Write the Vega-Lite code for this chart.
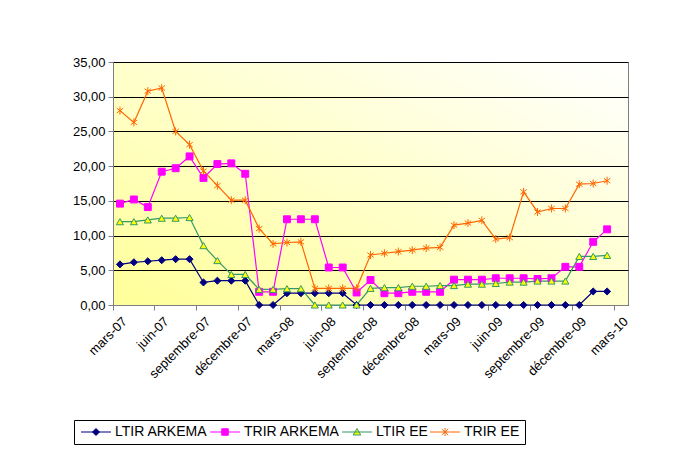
{
  "$schema": "https://vega.github.io/schema/vega-lite/v6.json",
  "width": 515,
  "height": 243,
  "autosize": {"type": "none"},
  "padding": {"left": 113, "top": 62, "right": 57, "bottom": 162},
  "background": "white",
  "config": {
    "font": "Liberation Sans",
    "view": {
      "fill": {"gradient": "linear", "x1": 0, "y1": 1, "x2": 1, "y2": 0,
        "stops": [{"offset": 0, "color": "#FFFF99"}, {"offset": 1, "color": "#FFFFFF"}]},
      "stroke": "#808080",
      "strokeWidth": 1
    }
  },
  "data": {"values": [
    {"month":"mars-07","series":"LTIR ARKEMA","value":5.85},{"month":"avril-07","series":"LTIR ARKEMA","value":6.15},{"month":"mai-07","series":"LTIR ARKEMA","value":6.3},{"month":"juin-07","series":"LTIR ARKEMA","value":6.45},{"month":"juillet-07","series":"LTIR ARKEMA","value":6.6},{"month":"août-07","series":"LTIR ARKEMA","value":6.6},{"month":"septembre-07","series":"LTIR ARKEMA","value":3.25},{"month":"octobre-07","series":"LTIR ARKEMA","value":3.5},{"month":"novembre-07","series":"LTIR ARKEMA","value":3.5},{"month":"décembre-07","series":"LTIR ARKEMA","value":3.5},{"month":"janvier-08","series":"LTIR ARKEMA","value":0},{"month":"février-08","series":"LTIR ARKEMA","value":0},{"month":"mars-08","series":"LTIR ARKEMA","value":1.7},{"month":"avril-08","series":"LTIR ARKEMA","value":1.7},{"month":"mai-08","series":"LTIR ARKEMA","value":1.7},{"month":"juin-08","series":"LTIR ARKEMA","value":1.7},{"month":"juillet-08","series":"LTIR ARKEMA","value":1.7},{"month":"août-08","series":"LTIR ARKEMA","value":0},{"month":"septembre-08","series":"LTIR ARKEMA","value":0},{"month":"octobre-08","series":"LTIR ARKEMA","value":0},{"month":"novembre-08","series":"LTIR ARKEMA","value":0},{"month":"décembre-08","series":"LTIR ARKEMA","value":0},{"month":"janvier-09","series":"LTIR ARKEMA","value":0},{"month":"février-09","series":"LTIR ARKEMA","value":0},{"month":"mars-09","series":"LTIR ARKEMA","value":0},{"month":"avril-09","series":"LTIR ARKEMA","value":0},{"month":"mai-09","series":"LTIR ARKEMA","value":0},{"month":"juin-09","series":"LTIR ARKEMA","value":0},{"month":"juillet-09","series":"LTIR ARKEMA","value":0},{"month":"août-09","series":"LTIR ARKEMA","value":0},{"month":"septembre-09","series":"LTIR ARKEMA","value":0},{"month":"octobre-09","series":"LTIR ARKEMA","value":0},{"month":"novembre-09","series":"LTIR ARKEMA","value":0},{"month":"décembre-09","series":"LTIR ARKEMA","value":0},{"month":"janvier-10","series":"LTIR ARKEMA","value":1.95},{"month":"février-10","series":"LTIR ARKEMA","value":1.95},
    {"month":"mars-07","series":"TRIR ARKEMA","value":14.6},{"month":"avril-07","series":"TRIR ARKEMA","value":15.2},{"month":"mai-07","series":"TRIR ARKEMA","value":14.1},{"month":"juin-07","series":"TRIR ARKEMA","value":19.2},{"month":"juillet-07","series":"TRIR ARKEMA","value":19.7},{"month":"août-07","series":"TRIR ARKEMA","value":21.4},{"month":"septembre-07","series":"TRIR ARKEMA","value":18.3},{"month":"octobre-07","series":"TRIR ARKEMA","value":20.3},{"month":"novembre-07","series":"TRIR ARKEMA","value":20.4},{"month":"décembre-07","series":"TRIR ARKEMA","value":18.9},{"month":"janvier-08","series":"TRIR ARKEMA","value":1.9},{"month":"février-08","series":"TRIR ARKEMA","value":1.9},{"month":"mars-08","series":"TRIR ARKEMA","value":12.35},{"month":"avril-08","series":"TRIR ARKEMA","value":12.35},{"month":"mai-08","series":"TRIR ARKEMA","value":12.35},{"month":"juin-08","series":"TRIR ARKEMA","value":5.4},{"month":"juillet-08","series":"TRIR ARKEMA","value":5.4},{"month":"août-08","series":"TRIR ARKEMA","value":1.8},{"month":"septembre-08","series":"TRIR ARKEMA","value":3.6},{"month":"octobre-08","series":"TRIR ARKEMA","value":1.7},{"month":"novembre-08","series":"TRIR ARKEMA","value":1.7},{"month":"décembre-08","series":"TRIR ARKEMA","value":1.9},{"month":"janvier-09","series":"TRIR ARKEMA","value":1.9},{"month":"février-09","series":"TRIR ARKEMA","value":1.9},{"month":"mars-09","series":"TRIR ARKEMA","value":3.65},{"month":"avril-09","series":"TRIR ARKEMA","value":3.65},{"month":"mai-09","series":"TRIR ARKEMA","value":3.65},{"month":"juin-09","series":"TRIR ARKEMA","value":3.85},{"month":"juillet-09","series":"TRIR ARKEMA","value":3.85},{"month":"août-09","series":"TRIR ARKEMA","value":3.85},{"month":"septembre-09","series":"TRIR ARKEMA","value":3.75},{"month":"octobre-09","series":"TRIR ARKEMA","value":3.85},{"month":"novembre-09","series":"TRIR ARKEMA","value":5.5},{"month":"décembre-09","series":"TRIR ARKEMA","value":5.5},{"month":"janvier-10","series":"TRIR ARKEMA","value":9.1},{"month":"février-10","series":"TRIR ARKEMA","value":10.9},
    {"month":"mars-07","series":"LTIR EE","value":12.0},{"month":"avril-07","series":"LTIR EE","value":12.0},{"month":"mai-07","series":"LTIR EE","value":12.25},{"month":"juin-07","series":"LTIR EE","value":12.5},{"month":"juillet-07","series":"LTIR EE","value":12.5},{"month":"août-07","series":"LTIR EE","value":12.6},{"month":"septembre-07","series":"LTIR EE","value":8.55},{"month":"octobre-07","series":"LTIR EE","value":6.4},{"month":"novembre-07","series":"LTIR EE","value":4.4},{"month":"décembre-07","series":"LTIR EE","value":4.4},{"month":"janvier-08","series":"LTIR EE","value":2.25},{"month":"février-08","series":"LTIR EE","value":2.25},{"month":"mars-08","series":"LTIR EE","value":2.35},{"month":"avril-08","series":"LTIR EE","value":2.35},{"month":"mai-08","series":"LTIR EE","value":0},{"month":"juin-08","series":"LTIR EE","value":0},{"month":"juillet-08","series":"LTIR EE","value":0},{"month":"août-08","series":"LTIR EE","value":0},{"month":"septembre-08","series":"LTIR EE","value":2.4},{"month":"octobre-08","series":"LTIR EE","value":2.5},{"month":"novembre-08","series":"LTIR EE","value":2.5},{"month":"décembre-08","series":"LTIR EE","value":2.7},{"month":"janvier-09","series":"LTIR EE","value":2.7},{"month":"février-09","series":"LTIR EE","value":2.8},{"month":"mars-09","series":"LTIR EE","value":2.8},{"month":"avril-09","series":"LTIR EE","value":3.0},{"month":"mai-09","series":"LTIR EE","value":3.0},{"month":"juin-09","series":"LTIR EE","value":3.1},{"month":"juillet-09","series":"LTIR EE","value":3.3},{"month":"août-09","series":"LTIR EE","value":3.3},{"month":"septembre-09","series":"LTIR EE","value":3.45},{"month":"octobre-09","series":"LTIR EE","value":3.45},{"month":"novembre-09","series":"LTIR EE","value":3.45},{"month":"décembre-09","series":"LTIR EE","value":7.0},{"month":"janvier-10","series":"LTIR EE","value":7.0},{"month":"février-10","series":"LTIR EE","value":7.15},
    {"month":"mars-07","series":"TRIR EE","value":28.0},{"month":"avril-07","series":"TRIR EE","value":26.3},{"month":"mai-07","series":"TRIR EE","value":30.8},{"month":"juin-07","series":"TRIR EE","value":31.25},{"month":"juillet-07","series":"TRIR EE","value":25.0},{"month":"août-07","series":"TRIR EE","value":23.1},{"month":"septembre-07","series":"TRIR EE","value":19.3},{"month":"octobre-07","series":"TRIR EE","value":17.2},{"month":"novembre-07","series":"TRIR EE","value":15.1},{"month":"décembre-07","series":"TRIR EE","value":15.1},{"month":"janvier-08","series":"TRIR EE","value":11.0},{"month":"février-08","series":"TRIR EE","value":8.8},{"month":"mars-08","series":"TRIR EE","value":9.0},{"month":"avril-08","series":"TRIR EE","value":9.1},{"month":"mai-08","series":"TRIR EE","value":2.4},{"month":"juin-08","series":"TRIR EE","value":2.4},{"month":"juillet-08","series":"TRIR EE","value":2.4},{"month":"août-08","series":"TRIR EE","value":2.4},{"month":"septembre-08","series":"TRIR EE","value":7.2},{"month":"octobre-08","series":"TRIR EE","value":7.45},{"month":"novembre-08","series":"TRIR EE","value":7.7},{"month":"décembre-08","series":"TRIR EE","value":7.9},{"month":"janvier-09","series":"TRIR EE","value":8.2},{"month":"février-09","series":"TRIR EE","value":8.3},{"month":"mars-09","series":"TRIR EE","value":11.5},{"month":"avril-09","series":"TRIR EE","value":11.8},{"month":"mai-09","series":"TRIR EE","value":12.2},{"month":"juin-09","series":"TRIR EE","value":9.5},{"month":"juillet-09","series":"TRIR EE","value":9.7},{"month":"août-09","series":"TRIR EE","value":16.3},{"month":"septembre-09","series":"TRIR EE","value":13.4},{"month":"octobre-09","series":"TRIR EE","value":13.9},{"month":"novembre-09","series":"TRIR EE","value":13.9},{"month":"décembre-09","series":"TRIR EE","value":17.4},{"month":"janvier-10","series":"TRIR EE","value":17.5},{"month":"février-10","series":"TRIR EE","value":17.9}
  ]},
  "encoding": {
    "x": {
      "field": "month", "type": "ordinal", "sort": null,
      "scale": {"type": "band", "paddingInner": 0, "paddingOuter": 0,
        "domain": ["mars-07","avril-07","mai-07","juin-07","juillet-07","août-07","septembre-07","octobre-07","novembre-07","décembre-07","janvier-08","février-08","mars-08","avril-08","mai-08","juin-08","juillet-08","août-08","septembre-08","octobre-08","novembre-08","décembre-08","janvier-09","février-09","mars-09","avril-09","mai-09","juin-09","juillet-09","août-09","septembre-09","octobre-09","novembre-09","décembre-09","janvier-10","février-10","mars-10"]},
      "axis": {
        "title": null, "grid": false,
        "values": ["mars-07","juin-07","septembre-07","décembre-07","mars-08","juin-08","septembre-08","décembre-08","mars-09","juin-09","septembre-09","décembre-09","mars-10"],
        "bandPosition": 0, "labelOffset": 5, "labelAngle": -45, "labelAlign": "right", "labelBaseline": "middle",
        "labelPadding": 9, "tickSize": 5, "labelFontSize": 13, "labelFont": "Liberation Sans", "labelColor": "#000000",
        "domainColor": "#7f7f7f", "tickColor": "#7f7f7f", "labelOverlap": false, "labelBound": false, "labelFlush": false
      }
    },
    "y": {
      "field": "value", "type": "quantitative",
      "scale": {"domain": [0, 35], "nice": false},
      "axis": {
        "title": null, "values": [0, 5, 10, 15, 20, 25, 30, 35],
        "labelExpr": "replace(format(datum.value, '.2f'), '.', ',')",
        "grid": true, "gridColor": "#000000", "gridWidth": 1, "gridOpacity": 1,
        "tickSize": 5, "labelPadding": 3, "labelFontSize": 13, "labelFont": "Liberation Sans", "labelColor": "#000000",
        "domainColor": "#7f7f7f", "tickColor": "#7f7f7f"
      }
    }
  },
  "layer": [
    {
      "mark": {"type": "line", "strokeWidth": 1.2},
      "encoding": {
        "color": {
          "field": "series", "type": "nominal",
          "scale": {"domain": ["LTIR ARKEMA", "TRIR ARKEMA", "LTIR EE", "TRIR EE"], "range": ["#000080", "#FF00FF", "#339966", "#FF6600"]},
          "legend": {
            "title": null, "orient": "none", "legendX": -39, "legendY": 358, "direction": "horizontal",
            "strokeColor": "#000000", "fillColor": "#FFFFFF", "padding": 5,
            "labelFontSize": 14, "labelFont": "Liberation Sans", "labelColor": "#000000",
            "labelOffset": 22, "columnPadding": 0, "symbolSize": 100, "labelLimit": 300,
            "symbolType": "M-1,0H5M2,-0.7L2.7,0L2,0.7L1.3,0Z",
            "encode": {"symbols": {"update": {
              "shape": {"signal": "datum.value === 'LTIR ARKEMA' ? 'M-1,0H5M2,-0.7L2.7,0L2,0.7L1.3,0Z' : datum.value === 'TRIR ARKEMA' ? 'M-1,0H5M1.35,-0.65H2.65V0.65H1.35Z' : datum.value === 'LTIR EE' ? 'M-1,0H5M2,-0.7L2.75,0.6H1.25Z' : 'M-1,0H5M2,-0.8V0.8M1.35,-0.6L2.65,0.6M1.35,0.6L2.65,-0.6'"},
              "fill": {"signal": "datum.value === 'LTIR ARKEMA' ? '#000080' : datum.value === 'TRIR ARKEMA' ? '#FF00FF' : datum.value === 'LTIR EE' ? '#FFFF00' : 'transparent'"},
              "stroke": {"signal": "datum.value === 'LTIR ARKEMA' ? '#000080' : datum.value === 'TRIR ARKEMA' ? '#FF00FF' : datum.value === 'LTIR EE' ? '#339966' : '#FF6600'"},
              "strokeWidth": {"value": 1},
              "opacity": {"value": 1},
              "size": {"value": 100}
            }}}
          }
        }
      }
    },
    {
      "transform": [{"filter": "datum.series === 'LTIR ARKEMA'"}],
      "mark": {"type": "point", "shape": "diamond", "size": 50, "filled": true, "fill": "#000080", "stroke": "#000080", "strokeWidth": 1, "opacity": 1}
    },
    {
      "transform": [{"filter": "datum.series === 'TRIR ARKEMA'"}],
      "mark": {"type": "point", "shape": "square", "size": 48, "filled": true, "fill": "#FF00FF", "stroke": "#FF00FF", "strokeWidth": 1, "opacity": 1}
    },
    {
      "transform": [{"filter": "datum.series === 'LTIR EE'"}],
      "mark": {"type": "point", "shape": "triangle-up", "size": 50, "filled": true, "fill": "#FFFF00", "stroke": "#339966", "strokeWidth": 1, "opacity": 1}
    },
    {
      "transform": [{"filter": "datum.series === 'TRIR EE'"}],
      "mark": {"type": "point", "shape": "M0,-1V1M-0.8,-0.6L0.8,0.6M-0.8,0.6L0.8,-0.6", "size": 64, "filled": false, "fill": "transparent", "stroke": "#FF6600", "strokeWidth": 1, "opacity": 1}
    }
  ]
}
